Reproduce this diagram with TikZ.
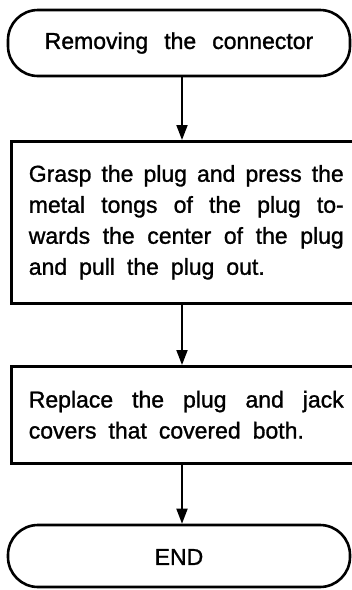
\documentclass[tikz,border=0pt]{standalone}
\usepackage{fontspec}
\setmainfont{Liberation Sans}[FakeBold=1.2]
\newfontfamily\medsans{Liberation Sans}[FakeBold=1.2]
\usetikzlibrary{arrows.meta}
\newcommand\mytxtfont{\medsans\fontsize{23}{31}\selectfont\spaceskip 12pt plus 10pt minus 4pt\relax}
\newcommand\mywide{\spaceskip 16pt\relax}
\begin{document}
\begin{tikzpicture}[x=1pt,y=-1pt,
  termbox/.style={draw, line width=2.6pt, rounded corners=30pt, minimum width=342pt, inner sep=0pt},
  stepbox/.style={draw, line width=2.6pt, minimum width=350pt, text width=315pt, inner xsep=15.5pt, inner ysep=0pt, align=justify},
  txt/.style={font=\mytxtfont},
  arr/.style={line width=1.8pt, -{Triangle[length=15pt,width=11pt]}}]
\useasboundingbox (0,0) rectangle (352,590);
\clip (0,0) rectangle (352,590);
\fill[white] (0,0) rectangle (352,590);
\node[termbox, minimum height=66pt, txt] (t1) at (179,43) {\mywide Removing the connector};
\node[stepbox, minimum height=162pt, txt, anchor=north west] (b2) at (10,140) {Grasp the plug and press the\linebreak metal tongs of the plug to-\linebreak wards the center of the plug\linebreak and pull the plug out.};
\node[stepbox, minimum height=97pt, txt, anchor=north west] (b3) at (10,365) {Replace the plug and jack\linebreak covers that covered both.};
\node[termbox, minimum height=62pt, txt, text depth=0pt] (t2) at (179,556) {\raisebox{-2pt}{END}};
\coordinate (ax) at (182,0);
\draw[arr] (t1.south -| ax) -- (b2.north -| ax);
\draw[arr] (b2.south -| ax) -- (b3.north -| ax);
\draw[arr] (b3.south -| ax) -- (t2.north -| ax);
\end{tikzpicture}
\end{document}
